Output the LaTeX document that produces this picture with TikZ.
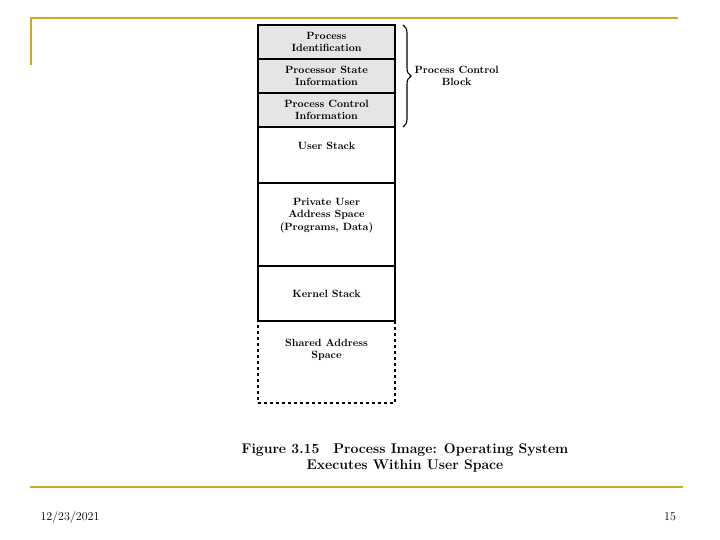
\documentclass[tikz,border=0pt]{standalone}
\usetikzlibrary{positioning,decorations.pathreplacing}
\definecolor{slidegold}{RGB}{204,170,40}
\tikzset{
    part/.style = {draw, rectangle, line width=1.1pt, minimum width=137pt,
        inner sep=0pt, outer sep=0pt, align=center,
        font=\fontsize{10.5}{12.5}\selectfont\bfseries},
    pcb/.style = {part, fill=gray!20, minimum height=34pt},
    shared/.style = {part, dashed, minimum height=82pt},
    rule/.style = {draw=slidegold, line width=2.5pt}
}
\begin{document}
\begin{tikzpicture}[x=1pt, y=-1pt]
    \useasboundingbox (0,0) rectangle (720,540);
    % slide frame
    \draw [rule] (30,18) -- (678,18);
    \draw [rule] (31,18) -- (31,65);
    \draw [rule] (30,487) -- (683,487);
    \node [font=\fontsize{12}{14}\selectfont] (date) at (70,517) {12/23/2021};
    \node [font=\fontsize{12}{14}\selectfont] (page) at (670,517) {15};
    % process image
    \node [pcb, anchor=north west] (pid) at (258,25) {Process\\Identification};
    \node [pcb, below=0pt of pid] (pstate) {Processor State\\Information};
    \node [pcb, below=0pt of pstate] (pctrl) {Process Control\\Information};
    \node [part, minimum height=56pt, below=0pt of pctrl] (ustack) {User Stack\\[6pt]};
    \node [part, minimum height=83pt, below=0pt of ustack] (private) {Private User\\Address Space\\(Programs, Data)\\[8pt]};
    \node [part, minimum height=55pt, below=0pt of private] (kstack) {Kernel Stack};
    \node [shared, below=0pt of kstack] (shared) {Shared Address\\Space\\[14pt]};
    % control block brace
    \draw [decorate, decoration={brace, amplitude=8pt}, line width=1.1pt]
        ([xshift=8pt]pid.north east) -- ([xshift=8pt]pctrl.south east)
        coordinate [midway, xshift=10pt] (bracetip);
    \node [font=\fontsize{10.5}{12.5}\selectfont\bfseries, align=center, anchor=west]
        (pcblabel) at ([xshift=-2pt]bracetip) {Process Control\\Block};
    % caption
    \node [font=\fontsize{14}{15.5}\selectfont\bfseries, align=center] (caption) at (405,458)
        {Figure 3.15\quad Process Image: Operating System\\Executes Within User Space};
\end{tikzpicture}
\end{document}
